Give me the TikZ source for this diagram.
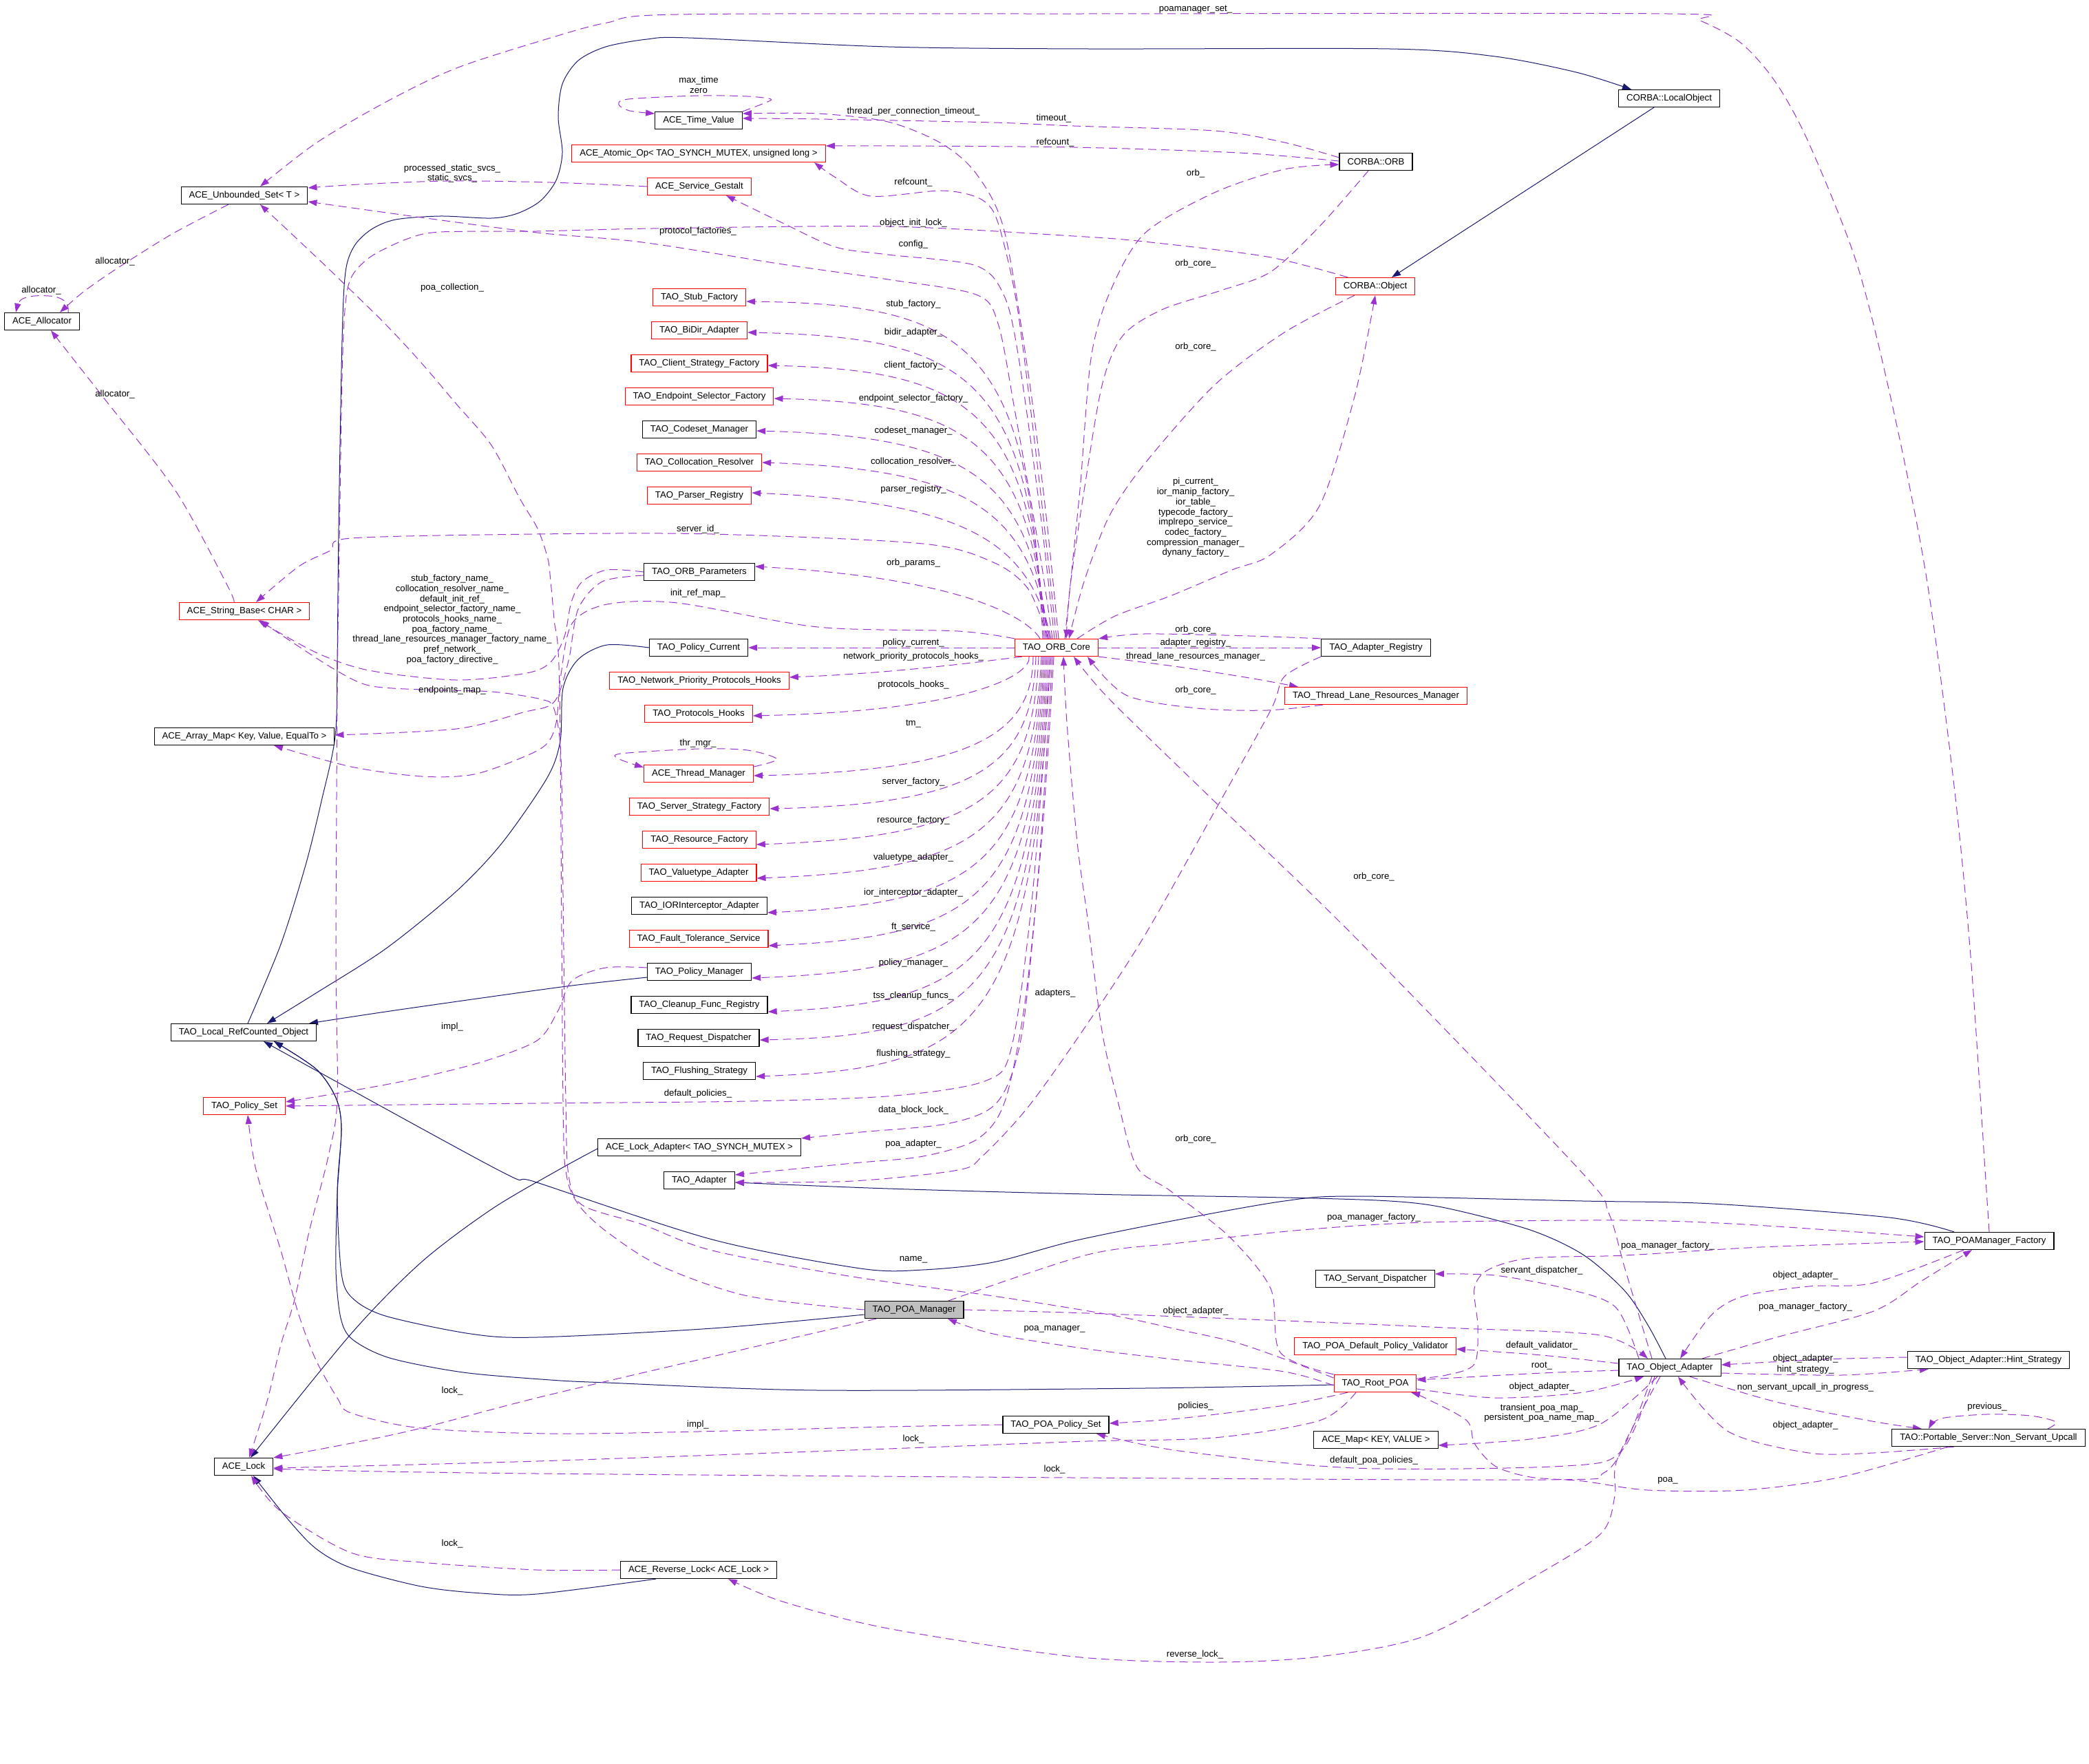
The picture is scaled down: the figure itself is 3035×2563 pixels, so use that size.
\documentclass[tikz,border=0pt]{standalone}
\usepackage{fontspec}
\setmainfont{Liberation Sans}
\usetikzlibrary{arrows.meta}
\definecolor{depcol}{HTML}{9A32CD}
\definecolor{inhcol}{HTML}{191970}
\definecolor{nodegrey}{HTML}{BFBFBF}
\newcommand{\lblfont}{\fontsize{13.2}{14.7}\selectfont}
\pgfdeclarelayer{bglayer}
\pgfdeclarelayer{edgelayer}
\pgfsetlayers{bglayer,edgelayer,main}
\begin{document}
\begin{tikzpicture}[x=1pt,y=-1pt,
  cls/.style={draw=black, line width=1.2pt, fill=white, minimum height=25pt, inner xsep=11.5pt, inner ysep=0pt, font=\lblfont},
  rcls/.style={cls, draw=red},
  lbl/.style={font=\lblfont, inner sep=0pt, align=center},
  dep/.style={draw=depcol, line width=1pt, dash pattern=on 12pt off 7pt, -{Triangle[length=13pt,width=9pt]}},
  inh/.style={draw=inhcol, line width=1pt, -{Triangle[length=13pt,width=9pt]}},
  tension=0.5]
\begin{pgfonlayer}{bglayer}
\fill[white] (0,0) rectangle (3035,2563);
\end{pgfonlayer}
\useasboundingbox (0,0) rectangle (3035,2563);

% ---------------- nodes ----------------
\node[cls] (lobj) at (2425,143) {CORBA::LocalObject};
\node[rcls] (obj) at (1998,416) {CORBA::Object};
\node[cls] (orb) at (1999,235) {CORBA::ORB};
\node[cls] (uset) at (355,284) {ACE\_Unbounded\_Set< T >};
\node[cls] (alloc) at (61,467) {ACE\_Allocator};
\node[cls] (tv) at (1015,175) {ACE\_Time\_Value};
\node[rcls] (atomic) at (1015,223) {ACE\_Atomic\_Op< TAO\_SYNCH\_MUTEX, unsigned long >};
\node[rcls] (gestalt) at (1016,271) {ACE\_Service\_Gestalt};
\node[rcls] (stub) at (1016,432) {TAO\_Stub\_Factory};
\node[rcls] (bidir) at (1016,480) {TAO\_BiDir\_Adapter};
\node[rcls] (client) at (1016,528) {TAO\_Client\_Strategy\_Factory};
\node[rcls] (endpoint) at (1016,576) {TAO\_Endpoint\_Selector\_Factory};
\node[cls] (codeset) at (1016,624) {TAO\_Codeset\_Manager};
\node[rcls] (colloc) at (1016,672) {TAO\_Collocation\_Resolver};
\node[rcls] (parser) at (1016,720) {TAO\_Parser\_Registry};
\node[cls] (orbparams) at (1016,831) {TAO\_ORB\_Parameters};
\node[rcls] (strbase) at (355,888) {ACE\_String\_Base< CHAR >};
\node[cls] (arraymap) at (355,1070) {ACE\_Array\_Map< Key, Value, EqualTo >};
\node[cls] (polcur) at (1015,941) {TAO\_Policy\_Current};
\node[rcls] (orbcore) at (1535,941) {TAO\_ORB\_Core};
\node[rcls] (nphooks) at (1016,989) {TAO\_Network\_Priority\_Protocols\_Hooks};
\node[rcls] (phooks) at (1015,1037) {TAO\_Protocols\_Hooks};
\node[rcls] (thrmgr) at (1015,1124) {ACE\_Thread\_Manager};
\node[rcls] (ssf) at (1016,1172) {TAO\_Server\_Strategy\_Factory};
\node[rcls] (resf) at (1016,1220) {TAO\_Resource\_Factory};
\node[rcls] (vta) at (1015,1268) {TAO\_Valuetype\_Adapter};
\node[cls] (iori) at (1016,1316) {TAO\_IORInterceptor\_Adapter};
\node[rcls] (fts) at (1015,1364) {TAO\_Fault\_Tolerance\_Service};
\node[cls] (polmgr) at (1016,1412) {TAO\_Policy\_Manager};
\node[cls] (cleanup) at (1016,1460) {TAO\_Cleanup\_Func\_Registry};
\node[cls] (reqdisp) at (1015,1508) {TAO\_Request\_Dispatcher};
\node[cls] (flush) at (1016,1556) {TAO\_Flushing\_Strategy};
\node[cls] (lockad) at (1016,1667) {ACE\_Lock\_Adapter< TAO\_SYNCH\_MUTEX >};
\node[cls] (adapter) at (1016,1715) {TAO\_Adapter};
\node[cls] (refc) at (354,1500) {TAO\_Local\_RefCounted\_Object};
\node[rcls] (polset) at (355,1607) {TAO\_Policy\_Set};
\node[cls] (adreg) at (1999,941) {TAO\_Adapter\_Registry};
\node[rcls] (tlrm) at (1999,1011) {TAO\_Thread\_Lane\_Resources\_Manager};
\node[cls, fill=nodegrey] (poamgr) at (1328,1903) {TAO\_POA\_Manager};
\node[cls] (poaps) at (1534,2070) {TAO\_POA\_Policy\_Set};
\node[cls] (revlock) at (1015,2281) {ACE\_Reverse\_Lock< ACE\_Lock >};
\node[cls] (acelock) at (354,2131) {ACE\_Lock};
\node[cls] (sdisp) at (1998,1858) {TAO\_Servant\_Dispatcher};
\node[rcls] (validator) at (1998,1956) {TAO\_POA\_Default\_Policy\_Validator};
\node[rcls] (rootpoa) at (1998,2010) {TAO\_Root\_POA};
\node[cls] (acemap) at (1999,2092) {ACE\_Map< KEY, VALUE >};
\node[cls] (pmf) at (2890,1803) {TAO\_POAManager\_Factory};
\node[cls] (oa) at (2426,1987) {TAO\_Object\_Adapter};
\node[cls] (hint) at (2889,1976) {TAO\_Object\_Adapter::Hint\_Strategy};
\node[cls] (nsu) at (2889,2089) {TAO::Portable\_Server::Non\_Servant\_Upcall};

% ---------------- edge labels ----------------
\node[lbl] (l01) at (1737,14) {poamanager\_set\_};
\node[lbl] (l02) at (1015,123) {max\_time\\zero};
\node[lbl] (l03) at (1327,162) {thread\_per\_connection\_timeout\_};
\node[lbl] (l04) at (1531,172) {timeout\_};
\node[lbl] (l05) at (1533,207) {refcount\_};
\node[lbl] (l06) at (1327,265) {refcount\_};
\node[lbl] (l07) at (657,252) {processed\_static\_svcs\_\\static\_svcs\_};
\node[lbl] (l08) at (60,422) {allocator\_};
\node[lbl] (l09) at (167,380) {allocator\_};
\node[lbl] (l10) at (167,573) {allocator\_};
\node[lbl] (l11) at (1014,336) {protocol\_factories\_};
\node[lbl] (l12) at (1327,324) {object\_init\_lock\_};
\node[lbl] (l13) at (1327,355) {config\_};
\node[lbl] (l14) at (657,418) {poa\_collection\_};
\node[lbl] (l15) at (1737,252) {orb\_};
\node[lbl] (l16) at (1737,383) {orb\_core\_};
\node[lbl] (l17) at (1737,504) {orb\_core\_};
\node[lbl] (l18) at (1014,769) {server\_id\_};
\node[lbl] (l19) at (657,900) {stub\_factory\_name\_\\collocation\_resolver\_name\_\\default\_init\_ref\_\\endpoint\_selector\_factory\_name\_\\protocols\_hooks\_name\_\\poa\_factory\_name\_\\thread\_lane\_resources\_manager\_factory\_name\_\\pref\_network\_\\poa\_factory\_directive\_};
\node[lbl] (l20) at (1737,752) {pi\_current\_\\ior\_manip\_factory\_\\ior\_table\_\\typecode\_factory\_\\implrepo\_service\_\\codec\_factory\_\\compression\_manager\_\\dynany\_factory\_};
\node[lbl] (l21) at (1014,862) {init\_ref\_map\_};
\node[lbl] (l22) at (657,1003) {endpoints\_map\_};
\node[lbl] (l23) at (1327,934) {policy\_current\_};
\node[lbl] (l24) at (1737,915) {orb\_core\_};
\node[lbl] (l25) at (1737,934) {adapter\_registry\_};
\node[lbl] (l26) at (1737,954) {thread\_lane\_resources\_manager\_};
\node[lbl] (l27) at (1737,1003) {orb\_core\_};
\node[lbl] (l28) at (1327,954) {network\_priority\_protocols\_hooks\_};
\node[lbl] (l29) at (1014,1080) {thr\_mgr\_};
\node[lbl] (l30) at (1014,1589) {default\_policies\_};
\node[lbl] (l31) at (1327,1613) {data\_block\_lock\_};
\node[lbl] (l32) at (1327,1662) {poa\_adapter\_};
\node[lbl] (l33) at (1533,1443) {adapters\_};
\node[lbl] (l34) at (657,1492) {impl\_};
\node[lbl] (l35) at (1996,1274) {orb\_core\_};
\node[lbl] (l36) at (1737,1655) {orb\_core\_};
\node[lbl] (l37) at (1996,1769) {poa\_manager\_factory\_};
\node[lbl] (l38) at (2423,1810) {poa\_manager\_factory\_};
\node[lbl] (l39) at (1327,1830) {name\_};
\node[lbl] (l40) at (2240,1846) {servant\_dispatcher\_};
\node[lbl] (l41) at (1737,1905) {object\_adapter\_};
\node[lbl] (l42) at (1532,1931) {poa\_manager\_};
\node[lbl] (l43) at (2240,1955) {default\_validator\_};
\node[lbl] (l44) at (2240,1985) {root\_};
\node[lbl] (l45) at (2240,2015) {object\_adapter\_};
\node[lbl] (l46) at (657,2021) {lock\_};
\node[lbl] (l47) at (1014,2070) {impl\_};
\node[lbl] (l48) at (1737,2043) {policies\_};
\node[lbl] (l49) at (1327,2091) {lock\_};
\node[lbl] (l50) at (2240,2053) {transient\_poa\_map\_\\persistent\_poa\_name\_map\_};
\node[lbl] (l51) at (1996,2122) {default\_poa\_policies\_};
\node[lbl] (l52) at (1532,2135) {lock\_};
\node[lbl] (l53) at (2423,2151) {poa\_};
\node[lbl] (l54) at (657,2243) {lock\_};
\node[lbl] (l55) at (1736,2404) {reverse\_lock\_};
\node[lbl] (l56) at (2623,1853) {object\_adapter\_};
\node[lbl] (l57) at (2623,1899) {poa\_manager\_factory\_};
\node[lbl] (l58) at (2623,1974) {object\_adapter\_};
\node[lbl] (l59) at (2623,1990) {hint\_strategy\_};
\node[lbl] (l60) at (2623,2016) {non\_servant\_upcall\_in\_progress\_};
\node[lbl] (l61) at (2623,2071) {object\_adapter\_};
\node[lbl] (l62) at (2887,2044) {previous\_};

\begin{pgfonlayer}{edgelayer}
% ---------------- inheritance ----------------
\draw[inh] ([xshift=-22pt]lobj.south) -- ([xshift=24pt]obj.north);
\draw[inh, smooth] plot coordinates {([xshift=6pt]refc.north) (408,1372) (444,1257) (467,1164) (487,1070) (490,961) (492,768) (497,494) (502,395) (515,357) (540,333) (575,319) (640,314) (714,317) (752,310) (785,292) (808,262) (817,222) (811,170) (817,122) (840,88) (880,68) (940,57) (1000,55) (1290,68) (1580,71) (2019,71) (2172,82) (2290,105) ([xshift=-55pt]lobj.north)};
\draw[inh, smooth] plot coordinates {(polcur.west) (882,937) (840,958) (818,1000) (814,1076) (795,1130) (730,1224) (663,1295) (561,1378) (459,1443) ([xshift=34pt]refc.north)};
\draw[inh, smooth] plot coordinates {([yshift=-8pt]polmgr.west) (831,1432) (700,1450) (560,1470) ([xshift=95pt]refc.north)};
\draw[inh, smooth] plot coordinates {([yshift=-7pt]poamgr.west) (1035,1930) (780,1943) (684,1938) (560,1912) (512,1886) (496,1850) (490,1735) (496,1640) (488,1595) (459,1553) ([xshift=44pt]refc.south)};
\draw[inh, smooth] plot coordinates {([yshift=-2pt]rootpoa.west) (1662,2017) (1188,2020) (882,2009) (800,2005) (673,1994) (566,1973) (512,1946) (495,1915) (488,1845) (490,1735) (496,1640) (488,1595) (459,1553) ([xshift=44pt]refc.south)};
\draw[inh, smooth] plot coordinates {([xshift=-51pt]pmf.north) (2745,1769) (2488,1749) (2300,1745) (1968,1738) (1866,1745) (1713,1772) (1560,1803) (1443,1834) (1341,1845) (1250,1843) (1035,1801) (780,1718) (724,1700) ([xshift=29pt]refc.south)};
\draw[inh, smooth] plot coordinates {([xshift=-6pt]oa.north) (2394,1925) (2360,1875) (2300,1823) (2223,1787) (2100,1755) (2019,1745) (1866,1740) (1580,1735) (1290,1727) ([yshift=-3pt]adapter.east)};
\draw[inh, smooth] plot coordinates {([yshift=-2pt]lockad.west) (811,1700) (714,1757) (612,1834) (510,1938) ([xshift=10pt]acelock.north)};
\draw[inh, smooth] plot coordinates {([xshift=-62pt]revlock.south) (780,2316) (700,2315) (612,2305) (510,2278) (459,2250) (418,2207) ([xshift=14pt]acelock.south)};

% ---------------- ORB_Core to left column (above) ----------------
\foreach \n/\ye/\ys/\xs in {stub/432/-6/-20, bidir/480/-3/-18, client/528/-3/-16, endpoint/576/-3/-14, codeset/624/-2/-12, colloc/672/0/-10, parser/720/4/-8, orbparams/831/8/-24}{
  \draw[dep] ([xshift=\xs pt]orbcore.north) .. controls (1495,\ye+70) and (1410,\ye+10) .. ([yshift=\ys pt]\n.east);
}
\node[lbl] (lstub) at (1327,442) {stub\_factory\_};
\node[lbl] (lbidir) at (1327,483) {bidir\_adapter\_};
\node[lbl] (lclient) at (1327,531) {client\_factory\_};
\node[lbl] (lendpoint) at (1327,579) {endpoint\_selector\_factory\_};
\node[lbl] (lcodeset) at (1327,626) {codeset\_manager\_};
\node[lbl] (lcolloc) at (1327,671) {collocation\_resolver\_};
\node[lbl] (lparser) at (1327,711) {parser\_registry\_};
\node[lbl] (lorbparams) at (1327,818) {orb\_params\_};

% ---------------- ORB_Core to left column (below) ----------------
\foreach \n/\ye/\ys/\xs in {phooks/1037/-3/-40, thrmgr/1124/-3/-34, ssf/1172/-3/-30, resf/1220/-7/-26, vta/1268/-8/-22, iori/1316/-10/-20, fts/1364/-10/-18, polmgr/1412/-9/-16, cleanup/1460/-10/-14, reqdisp/1508/-3/-12, flush/1556/-8/-10}{
  \draw[dep] ([xshift=\xs pt]orbcore.south) .. controls (1500,\ye-60) and (1420,\ye-4) .. ([yshift=\ys pt]\n.east);
}
\node[lbl] (lphooks) at (1327,995) {protocols\_hooks\_};
\node[lbl] (lthrmgr) at (1327,1052) {tm\_};
\node[lbl] (lssf) at (1327,1136) {server\_factory\_};
\node[lbl] (lresf) at (1327,1192) {resource\_factory\_};
\node[lbl] (lvta) at (1327,1246) {valuetype\_adapter\_};
\node[lbl] (liori) at (1327,1297) {ior\_interceptor\_adapter\_};
\node[lbl] (lfts) at (1327,1347) {ft\_service\_};
\node[lbl] (lpolmgr) at (1327,1399) {policy\_manager\_};
\node[lbl] (lcleanup) at (1327,1447) {tss\_cleanup\_funcs\_};
\node[lbl] (lreqdisp) at (1327,1492) {request\_dispatcher\_};
\node[lbl] (lflush) at (1327,1531) {flushing\_strategy\_};

\draw[dep] ([xshift=-50pt]orbcore.south) .. controls (1420,962) and (1300,978) .. ([yshift=5pt]nphooks.east);
\draw[dep] (orbcore.west) -- (polcur.east);

% ---------------- other dependency edges ----------------
\draw[dep, smooth] plot coordinates {(pmf.north) (2884,1700) (2863,1389) (2839,1142) (2799,840) (2750,592) (2698,384) (2628,208) (2580,120) (2530,63) (2470,30) (2422,20) (1580,20) (984,21) (882,33) (800,55) (663,99) (561,148) (459,208) ([xshift=23pt]uset.north)};
\draw[dep, smooth] plot coordinates {([xshift=38pt]alloc.north) (97,440) (80,431) (50,430) (30,436) ([xshift=-38pt]alloc.north)};
\draw[dep, smooth] plot coordinates {([xshift=-23pt]uset.south) (250,340) (167,392) (120,425) ([xshift=26pt]alloc.north)};
\draw[dep, smooth] plot coordinates {([xshift=-15pt]strbase.north) (330,850) (255,713) (153,581) (102,516) ([xshift=13pt]alloc.south)};
\draw[dep, smooth] plot coordinates {(gestalt.west) (800,265) (650,263) (520,268) ([yshift=11pt]uset.east)};
\draw[dep, smooth] plot coordinates {([xshift=-6pt]orbcore.north) (1510,800) (1475,600) (1450,470) (1418,428) (1290,406) (1137,384) (933,352) (780,338) (612,316) ([yshift=-9pt]uset.east)};
\draw[dep, smooth] plot coordinates {([xshift=-40pt]obj.north) (1841,373) (1662,351) (1560,343) (1290,329) (948,332) (780,336) (640,337) (592,347) (540,372) (512,400) (502,440) (497,549) (492,860) (490,1005) (488,1389) (490,1597) (477,1680) (449,1790) (428,1888) (408,1954) (388,2036) ([xshift=8pt]acelock.north)};
\draw[dep, smooth] plot coordinates {([xshift=-3pt]orbcore.north) (1512,750) (1480,520) (1459,430) (1418,386) (1290,370) (1214,359) (1137,324) ([xshift=39pt]gestalt.south)};
\draw[dep, smooth] plot coordinates {(orbcore.north) (1510,700) (1480,460) (1460,360) (1443,307) (1418,286) (1367,277) (1265,285) (1214,258) ([xshift=168pt]atomic.south)};
\draw[dep, smooth] plot coordinates {([xshift=3pt]orbcore.north) (1520,750) (1495,550) (1459,335) (1418,252) (1367,208) (1290,177) (1188,165) ([yshift=10pt]tv.east)};
\draw[dep, smooth] plot coordinates {([yshift=6pt]orb.west) (1866,207) (1764,190) (1560,183) (1443,178) (1188,173) ([yshift=3pt]tv.east)};
\draw[dep, smooth] plot coordinates {([yshift=1pt]orb.west) (1800,222) (1560,214) (1300,212) ([yshift=11pt]atomic.east)};
\draw[dep, smooth] plot coordinates {([yshift=13pt]tv.east) (1110,150) (1120,144) (1086,140) (1015,139) (913,144) (899,152) (915,161) ([yshift=10pt]tv.west)};
\draw[dep, smooth] plot coordinates {([xshift=12pt]orbcore.north) (1560,800) (1570,700) (1585,521) (1611,428) (1662,340) (1764,280) (1866,246) ([yshift=-4pt]orb.west)};
\draw[dep, smooth] plot coordinates {([xshift=-11pt]orb.south) (1917,329) (1846,395) (1774,422) (1688,450) (1631,488) (1601,560) (1575,713) (1555,850) ([xshift=14pt]orbcore.north)};
\draw[dep, smooth] plot coordinates {([xshift=-30pt]obj.south) (1866,483) (1764,560) (1662,675) (1611,751) (1575,845) ([xshift=18pt]orbcore.north)};
\draw[dep, smooth] plot coordinates {([xshift=30pt]orbcore.north) (1620,895) (1700,866) (1790,828) (1846,806) (1917,735) (1968,576) (obj.south)};
\draw[dep, smooth] plot coordinates {([xshift=-12pt]orbcore.north) (1494,856) (1443,817) (1341,790) (1035,776) (780,776) (510,782) (480,800) (434,823) ([xshift=17pt]strbase.north)};
\draw[dep, smooth] plot coordinates {(orbparams.west) (882,828) (846,845) (830,875) (820,925) (800,962) (765,978) (663,988) (536,974) (459,948) ([xshift=20pt]strbase.south)};
\draw[dep, smooth] plot coordinates {([yshift=-5pt]orbparams.west) (875,845) (840,885) (826,960) (805,1020) (760,1035) (663,1059) ([yshift=2pt]arraymap.east)};
\draw[dep, smooth] plot coordinates {(orbcore.north west) (1392,917) (1188,911) (984,876) (882,878) (831,906) (815,980) (808,1050) (795,1080) (765,1098) (689,1125) (612,1128) (510,1114) ([xshift=43pt]arraymap.south)};
\draw[dep, smooth] plot coordinates {([yshift=8pt]rootpoa.west) (1856,1971) (1790,1949) (1713,1932) (1611,1910) (1443,1883) (1239,1855) (1035,1817) (933,1779) (846,1751) (826,1707) (822,1600) (818,1300) (815,1100) (805,1030) (786,1016) (714,1005) (612,1002) (536,996) (485,972) (408,922) ([xshift=23pt]strbase.south)};
\draw[dep, smooth] plot coordinates {(poamgr.west) (1086,1883) (959,1839) (882,1790) (841,1751) (823,1707) (818,1600) (813,1005) (805,900) (800,845) (796,812) (781,768) (755,724) (714,647) (663,587) (612,527) (561,472) (510,422) (459,373) ([xshift=23pt]uset.south)};
\draw[dep] (orbcore.east) -- (adreg.west);
\draw[dep, smooth] plot coordinates {(adreg.north west) (1815,924) (1662,921) (orbcore.north east)};
\draw[dep, smooth] plot coordinates {(orbcore.south east) (1713,969) (1815,985) ([xshift=-113pt]tlrm.north)};
\draw[dep, smooth] plot coordinates {([xshift=-77pt]tlrm.south) (1841,1032) (1739,1029) (1636,1010) ([xshift=45pt]orbcore.south)};
\draw[dep, smooth] plot coordinates {([xshift=-26pt]oa.north) (2361,1844) (2337,1762) (2295,1700) (1968,1361) (1764,1164) (1611,1015) ([xshift=25pt]orbcore.south)};
\draw[dep, smooth] plot coordinates {(rootpoa.north west) (1860,1965) (1846,1872) (1784,1795) (1700,1730) (1652,1696) (1626,1608) (1601,1498) (1580,1334) (1565,1224) (1550,1050) ([xshift=10pt]orbcore.south)};
\draw[dep, smooth] plot coordinates {(adreg.south west) (1866,983) (1846,1032) (1764,1180) (1662,1361) (1576,1493) (1494,1608) (1428,1679) (1392,1700) (1239,1716) ([yshift=-3pt]adapter.east)};
\draw[dep, smooth] plot coordinates {([xshift=-4pt]orbcore.south) (1515,1200) (1490,1450) (1460,1600) (1420,1655) (1341,1680) (1239,1690) ([yshift=8pt]adapter.east)};
\draw[dep, smooth] plot coordinates {([xshift=-6pt]orbcore.south) (1510,1250) (1485,1500) (1450,1600) (1380,1632) (1250,1645) (lockad.north east)};
\draw[dep, smooth] plot coordinates {([xshift=-8pt]orbcore.south) (1500,1300) (1470,1520) (1433,1570) (1300,1592) (1086,1600) (780,1603) (polset.east)};
\draw[dep, smooth] plot coordinates {([yshift=6pt]polmgr.west) (880,1406) (831,1425) (810,1470) (780,1512) (700,1543) (600,1568) (510,1585) ([yshift=6pt]polset.east)};
\draw[dep, smooth] plot coordinates {(poaps.west) (1290,2073) (1014,2080) (800,2083) (612,2075) (510,2053) (490,2031) (459,1976) (434,1910) (408,1817) (372,1700) ([xshift=5pt]polset.south)};
\draw[dep, smooth] plot coordinates {(poamgr.east) (1580,1908) (1917,1921) (2121,1930) (2325,1940) ([xshift=-32pt]oa.north)};
\draw[dep, smooth] plot coordinates {([xshift=50pt]poamgr.north) (1580,1823) (1713,1806) (1892,1787) (2070,1776) (2360,1773) (2534,1779) ([yshift=6pt]pmf.west)};
\draw[dep, smooth] plot coordinates {([xshift=-55pt]poamgr.south) (1035,1971) (780,2031) (612,2075) (510,2097) (acelock.north east)};
\draw[dep, smooth] plot coordinates {([yshift=-3pt]rootpoa.west) (1866,1993) (1713,1976) (1580,1960) (1443,1938) ([xshift=49pt]poamgr.south)};
\draw[dep, smooth] plot coordinates {([yshift=-8pt]rootpoa.east) (2172,2031) (2300,2023) ([xshift=-38pt]oa.south)};
\draw[dep, smooth] plot coordinates {([xshift=-40pt]rootpoa.south) (1866,2042) (1713,2061) ([yshift=2pt]poaps.east)};
\draw[dep, smooth] plot coordinates {([xshift=-28pt]rootpoa.south) (1917,2064) (1764,2089) (1580,2094) (1290,2105) (780,2123) ([yshift=-2pt]acelock.east)};
\draw[dep, smooth] plot coordinates {([yshift=7pt]rootpoa.east) (2101,1998) (2142,1982) (2147,1927) (2142,1872) (2162,1845) (2223,1828) (2360,1824) (2558,1812) ([yshift=-1pt]pmf.west)};
\draw[dep, smooth] plot coordinates {([xshift=-45pt]oa.north) (2347,1899) (2274,1872) (2172,1853) ([yshift=7pt]sdisp.east)};
\draw[dep, smooth] plot coordinates {([yshift=6pt]oa.west) (2240,1969) ([yshift=-4pt]validator.east)};
\draw[dep, smooth] plot coordinates {([yshift=-4pt]oa.west) (2240,1995) ([yshift=5pt]rootpoa.east)};
\draw[dep, smooth] plot coordinates {([xshift=-18pt]oa.south) (2325,2069) (2223,2091) ([yshift=-8pt]acemap.east)};
\draw[dep, smooth] plot coordinates {([xshift=-22pt]oa.south) (2356,2108) (2274,2130) (1968,2133) (1713,2108) ([xshift=59pt]poaps.south)};
\draw[dep, smooth] plot coordinates {([xshift=-26pt]oa.south) (2365,2090) (2330,2140) (2250,2150) (1560,2147) (780,2141) (500,2137) ([yshift=-3pt]acelock.east)};
\draw[dep, smooth] plot coordinates {([xshift=-14pt]oa.south) (2350,2119) (2346,2174) (2325,2229) (2223,2294) (2070,2377) (1917,2407) (1764,2415) (1560,2407) (1290,2366) (1137,2327) ([xshift=43pt]revlock.south)};
\draw[dep, smooth] plot coordinates {([xshift=47pt]oa.north) (2581,1943) (2722,1905) (2792,1861) ([xshift=-25pt]pmf.south)};
\draw[dep, smooth] plot coordinates {([xshift=-37pt]pmf.south) (2722,1864) (2628,1869) (2534,1883) (2487,1910) ([xshift=15pt]oa.north)};
\draw[dep, smooth] plot coordinates {([yshift=4pt]hint.west) (2650,1975) ([yshift=4pt]oa.east)};
\draw[dep, smooth] plot coordinates {([yshift=-8pt]oa.east) (2675,1998) ([xshift=-87pt]hint.south)};
\draw[dep, smooth] plot coordinates {([xshift=29pt]oa.south) (2581,2037) (2720,2065) ([xshift=-97pt]nsu.north)};
\draw[dep, smooth] plot coordinates {([xshift=-50pt]nsu.south) (2722,2111) (2628,2111) (2511,2080) ([xshift=12pt]oa.south)};
\draw[dep, smooth] plot coordinates {([xshift=86pt]nsu.north) (2987,2066) (2950,2057) (2886,2055) (2820,2061) ([xshift=-87pt]nsu.north)};
\draw[dep, smooth] plot coordinates {([xshift=-59pt]nsu.south) (2675,2146) (2534,2165) (2394,2165) (2300,2152) (2223,2146) (2172,2130) (2142,2097) (2131,2064) (2070,2031) ([xshift=52pt]rootpoa.south)};
\draw[dep, smooth] plot coordinates {(revlock.west) (780,2281) (612,2270) (510,2256) (408,2196) ([xshift=11pt]acelock.south)};
\draw[dep, smooth] plot coordinates {([yshift=10pt]thrmgr.east) (1129,1103) (1086,1090) (1015,1088) (902,1095) (900,1103) ([yshift=9pt]thrmgr.west)};
\end{pgfonlayer}
\end{tikzpicture}
\end{document}
